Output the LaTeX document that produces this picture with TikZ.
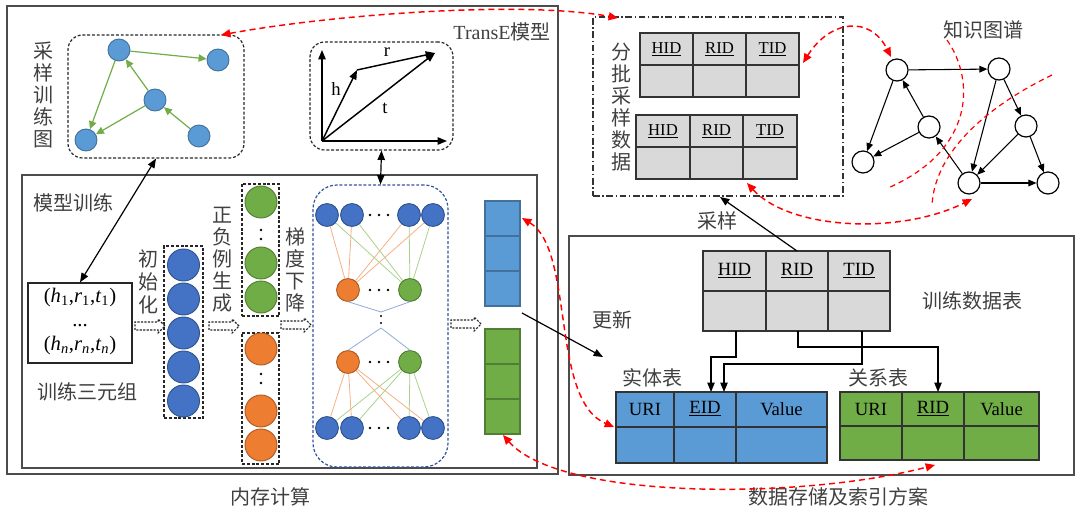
\documentclass[tikz,border=0pt]{standalone}
\usepackage{fontspec}
\setmainfont{Liberation Serif}
\newfontfamily\cjk{Noto Sans CJK SC}
\usetikzlibrary{arrows.meta,shapes.arrows,fit,calc}
\definecolor{lblue}{HTML}{5B9BD5}
\definecolor{lblueb}{HTML}{41719C}
\definecolor{dblue}{HTML}{4472C4}
\definecolor{dblueb}{HTML}{2F528F}
\definecolor{mgreen}{HTML}{70AD47}
\definecolor{mgreenb}{HTML}{507E32}
\definecolor{morange}{HTML}{ED7D31}
\definecolor{morangeb}{HTML}{AE5A21}
\definecolor{tgray}{HTML}{D9D9D9}
\definecolor{labc}{HTML}{404040}
\definecolor{nnb}{HTML}{2F5597}
\definecolor{lor}{HTML}{F4B183}
\definecolor{lgr}{HTML}{A9D18E}
\definecolor{lbl}{HTML}{8FAADC}
\tikzset{
 frame/.style={draw=black!70, line width=1.2pt, inner sep=0pt},
 dbox/.style={draw=black!85, dash pattern=on 2.2pt off 1.4pt, line width=0.9pt, inner sep=0pt},
 lab/.style={font=\cjk\fontsize{15}{16.5}\selectfont, text=labc, inner sep=0pt},
 vlab/.style={lab, align=center},
 en/.style={font=\fontsize{12.5}{14}\selectfont, inner sep=0pt},
 enb/.style={font=\fontsize{14}{15}\selectfont, inner sep=0pt},
 tblc/.style={draw=black!80, line width=1.1pt},
 sgn/.style={circle, fill=lblue, draw=lblueb, line width=0.7pt, minimum size=16.5pt, inner sep=0pt},
 inin/.style={circle, fill=dblue, draw=dblueb, line width=0.7pt, minimum size=24pt, inner sep=0pt},
 gcirc/.style={circle, fill=mgreen, draw=mgreenb, line width=0.7pt, minimum size=24pt, inner sep=0pt},
 ocirc/.style={circle, fill=morange, draw=morangeb, line width=0.7pt, minimum size=24pt, inner sep=0pt},
 nb/.style={circle, fill=dblue, draw=dblueb, line width=0.6pt, minimum size=17pt, inner sep=0pt},
 ng/.style={circle, fill=mgreen, draw=mgreenb, line width=0.6pt, minimum size=17pt, inner sep=0pt},
 no/.style={circle, fill=morange, draw=morangeb, line width=0.6pt, minimum size=17pt, inner sep=0pt},
 kg/.style={circle, draw=black, fill=white, line width=0.9pt, minimum size=16.5pt, inner sep=0pt},
 kgarr/.style={draw=black, line width=0.8pt, -{Triangle[length=6pt,width=5pt]}},
 sgarr/.style={draw=mgreen, line width=0.9pt, -{Triangle[length=6pt,width=5.5pt]}},
 blk/.style={draw=black, line width=0.9pt},
 tip/.style={-{Triangle[length=7pt,width=5.5pt]}},
 redarr/.style={draw=red, line width=1.1pt, dash pattern=on 4.5pt off 3pt, {Triangle[length=7pt,width=6pt]}-{Triangle[length=7pt,width=6pt]}},
 redc/.style={draw=red, line width=0.9pt, dash pattern=on 4pt off 3pt},
 harr/.style={single arrow, draw=black!85, dash pattern=on 1.6pt off 1pt, line width=0.8pt, inner sep=2.6pt, single arrow head extend=2.2pt, minimum height=22.5pt, fill=white},
 dotc/.style={circle, fill=black, inner sep=0pt, minimum size=2.2pt},
}
\begin{document}
\begin{tikzpicture}[x=0.75pt,y=-0.75pt]
\useasboundingbox (0,0) rectangle (1080,516);

% ---------- frames ----------
\node[frame, fit={(7,6) (558,474)}] (memf) {};
\node[frame, fit={(22,175) (537,468)}] (trainf) {};
\node[frame, fit={(569,236) (1074,475)}] (storf) {};
\node[draw=black!80, line width=1pt, dash pattern=on 5pt off 2pt on 1pt off 2pt, inner sep=0pt, fit={(593,17) (843,196)}] (dd) {};

% ---------- labels ----------
\node[vlab] (l1) at (43,95) {采\\样\\训\\练\\图};
\node[lab] (l2) at (502,32) {{\fontspec{Liberation Serif}TransE}模型};
\node[lab] (l3) at (73,203) {模型训练};
\node[lab] (l4) at (87,392) {训练三元组};
\node[vlab, font=\cjk\fontsize{15}{17.5}\selectfont] (l5) at (148,282) {初\\始\\化};
\node[vlab] (l6) at (222,260) {正\\负\\例\\生\\成};
\node[vlab] (l7) at (295,270) {梯\\度\\下\\降};
\node[lab] (l8) at (270,497) {内存计算};
\node[lab] (l9) at (838,497) {数据存储及索引方案};
\node[vlab] (l10) at (621,107) {分\\批\\采\\样\\数\\据};
\node[lab] (l11) at (983,30) {知识图谱};
\node[lab] (l12) at (717,221) {采样};
\node[lab] (l13) at (612,320) {更新};
\node[lab] (l14) at (972,301) {训练数据表};
\node[lab] (l15) at (652,378) {实体表};
\node[lab] (l16) at (878,378) {关系表};

% ---------- sampled training graph ----------
\node[dbox, rounded corners=11pt, fit={(68,35) (244,158)}] (sg) {};
\node[sgn] (s1) at (119,50) {};
\node[sgn] (s2) at (218,60) {};
\node[sgn] (s3) at (155,100) {};
\node[sgn] (s4) at (86,140) {};
\node[sgn] (s5) at (199,136) {};
\draw[sgarr] (s1) -- (s2);
\draw[sgarr] (s3) -- (s1);
\draw[sgarr] (s1) -- (s4);
\draw[sgarr] (s3) -- (s4);
\draw[sgarr] (s5) -- (s3);

% ---------- TransE ----------
\node[dbox, rounded corners=11pt, fit={(310,42) (453,150)}] (te) {};
\coordinate (O) at (322,141);
\coordinate (Ya) at (322,50);
\coordinate (Xa) at (447,141);
\coordinate (Hh) at (357,70);
\coordinate (Rr) at (435,53);
\draw[blk, line width=1.1pt, tip] (O) -- (Ya);
\draw[blk, line width=1.1pt, tip] (O) -- (Xa);
\draw[blk, line width=1.1pt, tip] (O) -- (Hh);
\draw[blk, line width=1.1pt, tip] (Hh) -- (Rr);
\draw[blk, line width=1.1pt, tip] (O) -- (Rr);
\node[font=\fontsize{14}{15}\selectfont, inner sep=0pt] (lh) at (336,89) {h};
\node[font=\fontsize{14}{15}\selectfont, inner sep=0pt] (lr) at (387,52) {r};
\node[font=\fontsize{14}{15}\selectfont, inner sep=0pt] (lt) at (385,108) {t};

% ---------- triples ----------
\node[draw=black!85, line width=1pt, inner sep=0pt, fit={(28,283) (132,363)}] (tri) {};
\node[align=center, font=\fontsize{15.5}{18}\selectfont, inner sep=0pt] (trit) at (80,322)
 {(\textit{h}\textsubscript{1},\textit{r}\textsubscript{1},\textit{t}\textsubscript{1})\\...\\(\textit{h}\textsubscript{\textit{n}},\textit{r}\textsubscript{\textit{n}},\textit{t}\textsubscript{\textit{n}})};
\draw[blk, <->, >={Triangle[length=7pt,width=5.5pt]}] (sg.south) -- (tri.north);

% ---------- init column ----------
\node[dbox, fit={(164,246) (203,418)}] (inib) {};
\foreach \y [count=\i] in {265,299,333,367,401} \node[inin] (i\i) at (183.5,\y) {};
\node[harr] (ha1) at (148,326) {};
\node[harr] (ha2) at (222,326) {};

% ---------- positive / negative ----------
\node[dbox, fit={(242,184) (279,316)}] (posb) {};
\node[gcirc] (p1) at (261,202) {};
\node[gcirc] (p2) at (261,263) {};
\node[gcirc] (p3) at (261,297) {};
\node[dotc] (pd1) at (261,230) {};
\node[dotc] (pd2) at (261,239) {};
\node[dbox, fit={(242,333) (279,464)}] (negb) {};
\node[ocirc] (q1) at (261,349) {};
\node[ocirc] (q2) at (261,411) {};
\node[ocirc] (q3) at (261,445) {};
\node[dotc] (qd1) at (261,374) {};
\node[dotc] (qd2) at (261,383) {};
\node[harr] (ha3) at (294,325) {};

% ---------- network ----------
\node[dbox, draw=nnb, rounded corners=18pt, fit={(313,185) (448,467)}] (nn) {};
\draw[blk, <->, >={Triangle[length=7pt,width=5.5pt]}] (te.south) -- (nn.north);
\foreach \n/\x in {1/327,2/352,4/409,5/433} {
  \node[nb] (t\n) at (\x,215) {};
  \node[nb] (b\n) at (\x,428) {};
}
\node[no] (o2) at (348,290) {};
\node[ng] (g2) at (410,290) {};
\node[no] (o3) at (348,362) {};
\node[ng] (g3) at (410,362) {};
\foreach \n in {1,2,4,5} {
  \draw[lor, line width=0.6pt] (t\n) -- (o2);
  \draw[lgr, line width=0.6pt] (t\n) -- (g2);
  \draw[lor, line width=0.6pt] (b\n) -- (o3);
  \draw[lgr, line width=0.6pt] (b\n) -- (g3);
}
\foreach \n/\x in {1/327,2/352,4/409,5/433} {
  \node[nb] at (t\n) {};
  \node[nb] at (b\n) {};
}
\node[no] at (o2) {}; \node[ng] at (g2) {};
\node[no] at (o3) {}; \node[ng] at (g3) {};
\foreach \y in {215,290,362,428} \foreach \x in {370,379,388} \fill (\x,\y) circle (1.1pt);
\coordinate (m1) at (381,312);
\coordinate (m2) at (381,328);
\draw[lbl, line width=0.6pt] (o2.south) -- (m1) -- (g2.south);
\draw[lbl, line width=0.6pt] (o3.north) -- (m2) -- (g3.north);
\fill (381,316) circle (0.9pt);
\fill (381,323) circle (0.9pt);
\node[harr] (ha4) at (464,324) {};

% ---------- output vectors ----------
\node[fill=lblue, draw=lblueb, line width=1.1pt, inner sep=0pt, fit={(485,201) (520,306)}] (bv) {};
\draw[lblueb, line width=1.1pt] (485,236) -- (520,236) (485,271) -- (520,271);
\node[fill=mgreen, draw=mgreenb, line width=1.1pt, inner sep=0pt, fit={(485,329) (520,434)}] (gv) {};
\draw[mgreenb, line width=1.1pt] (485,364) -- (520,364) (485,399) -- (520,399);

% ---------- batch tables ----------
\draw[tblc, fill=tgray] (640,33) rectangle (799,97);
\draw[tblc] (640,65) -- (799,65) (693,33) -- (693,97) (746,33) -- (746,97);
\node[en] (aH) at (666.5,49) {\underline{HID}};
\node[en] (aR) at (719.5,49) {\underline{RID}};
\node[en] (aT) at (772.5,49) {\underline{TID}};
\draw[tblc, fill=tgray] (636,115) rectangle (797,179);
\draw[tblc] (636,147) -- (797,147) (690,115) -- (690,179) (743,115) -- (743,179);
\node[en] (bH) at (663,131) {\underline{HID}};
\node[en] (bR) at (716.5,131) {\underline{RID}};
\node[en] (bT) at (770,131) {\underline{TID}};

% ---------- training data table ----------
\draw[tblc, fill=tgray] (703,251) rectangle (890,331);
\draw[tblc] (703,291) -- (890,291) (766,251) -- (766,331) (828,251) -- (828,331);
\node[enb] (cH) at (734.5,271) {\underline{HID}};
\node[enb] (cR) at (797,271) {\underline{RID}};
\node[enb] (cT) at (859,271) {\underline{TID}};

% ---------- entity table ----------
\draw[tblc, fill=lblue] (616,392) rectangle (827,463);
\draw[tblc] (616,427) -- (827,427) (674,392) -- (674,463) (736,392) -- (736,463);
\node[enb] (eU) at (645,409) {URI};
\node[enb] (eE) at (705,409) {\underline{EID}};
\node[enb] (eV) at (781.5,409) {Value};

% ---------- relation table ----------
\draw[tblc, fill=mgreen] (840,392) rectangle (1039,460);
\draw[tblc] (840,426) -- (1039,426) (902,392) -- (902,460) (964,392) -- (964,460);
\node[enb] (rU) at (871,409) {URI};
\node[enb] (rR) at (933,409) {\underline{RID}};
\node[enb] (rV) at (1001.5,409) {Value};

% ---------- table connectors ----------
\coordinate (cHb) at (736,331);
\coordinate (cRb) at (798,331);
\coordinate (cTb) at (862,331);
\coordinate (eIn1) at (711,392);
\coordinate (eIn2) at (724,392);
\coordinate (rIn) at (938,392);
\draw[blk, tip] (cHb) -- (736,357) -- (711,357) -- (eIn1);
\draw[blk, tip] (cTb) -- (862,364) -- (724,364) -- (eIn2);
\draw[blk, tip] (cRb) -- (798,347) -- (938,347) -- (rIn);
\coordinate (smp1) at (797,251);
\coordinate (smp2) at (720,197);
\draw[blk, tip] (smp1) -- (smp2);
\coordinate (up1) at (522,313);
\coordinate (up2) at (603,357);
\draw[blk, tip] (up1) -- (up2);

% ---------- knowledge graph ----------
\node[kg] (A) at (897,70) {};
\node[kg] (B) at (999,69) {};
\node[kg] (C) at (929,127) {};
\node[kg] (D) at (863,162) {};
\node[kg] (E) at (1026,126) {};
\node[kg] (F) at (969,183) {};
\node[kg] (G) at (1048,183) {};
\draw[kgarr] (A) -- (B);
\draw[kgarr] (A) -- (D);
\draw[kgarr] (C) -- (A);
\draw[kgarr] (C) -- (D);
\draw[kgarr] (B) -- (F);
\draw[kgarr] (B) -- (E);
\draw[kgarr] (E) -- (F);
\draw[kgarr] (E) -- (G);
\draw[kgarr] (F) -- (C);
\draw[kgarr] (F) -- (G);

% ---------- red dashed curves ----------
\coordinate (r1a) at (221,35);
\coordinate (r1b) at (618,18);
\draw[redarr] (r1a) .. controls (330,15) and (520,0) .. (r1b);
\coordinate (r2a) at (803,63);
\coordinate (r2b) at (891,57);
\draw[redarr] (r2a) .. controls (830,20) and (870,15) .. (r2b);
\coordinate (r3a) at (747,183);
\coordinate (r3b) at (972,199);
\draw[redarr] (r3a) .. controls (790,230) and (900,235) .. (r3b);
\coordinate (r4a) at (522,218);
\coordinate (r4b) at (614,427);
\draw[redarr] (r4a) .. controls (575,250) and (550,400) .. (r4b);
\coordinate (r5a) at (503,435);
\coordinate (r5b) at (935,465);
\draw[redarr] (r5a) .. controls (560,500) and (800,500) .. (r5b);
\coordinate (k1a) at (947,40);
\coordinate (k1b) at (888,188);
\draw[redc] (k1a) .. controls (975,80) and (975,150) .. (k1b);
\coordinate (k2a) at (1052,75);
\coordinate (k2b) at (932,205);
\draw[redc] (k2a) .. controls (990,105) and (935,150) .. (k2b);
\end{tikzpicture}
\end{document}
